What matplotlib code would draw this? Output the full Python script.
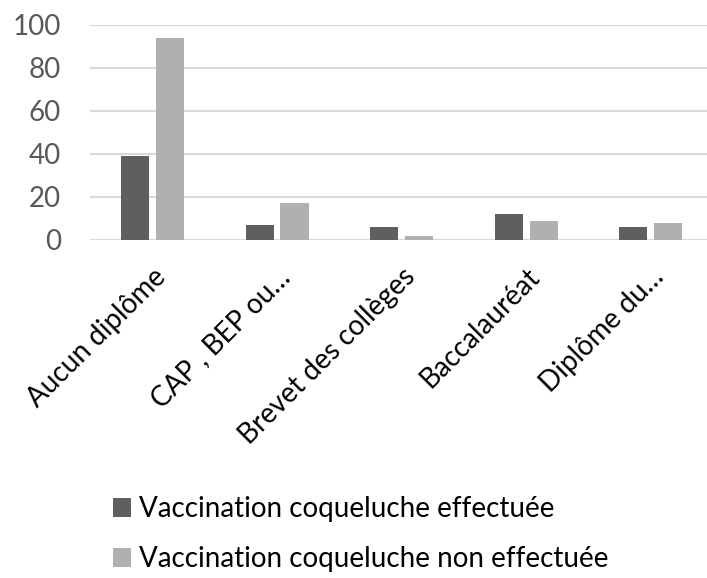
import numpy as np
import matplotlib.pyplot as plt

categories = ['Aucun diplôme', 'CAP , BEP ou…', 'Brevet des collèges', 'Baccalauréat', 'Diplôme du…']
effectuee = [39, 7, 6, 12, 6]
non_effectuee = [94, 17, 2, 9, 8]
series_names = ['Vaccination coqueluche effectuée', 'Vaccination coqueluche non effectuée']

plt.rcParams['font.family'] = ['Lato', 'DejaVu Sans']
grey_txt = '#595959'

fig = plt.figure(figsize=(7.07, 5.78), dpi=100)
ax = fig.add_axes([0.1276, 0.5848, 0.881, 0.372])

x = np.arange(len(categories))
w = 0.225
off = 0.14
ax.bar(x - off, effectuee, w, color='#5f5f5f', label=series_names[0], zorder=3)
ax.bar(x + off, non_effectuee, w, color='#b0b0b0', label=series_names[1], zorder=3)

ax.set_xlim(-0.5, len(categories) - 0.5)
ax.set_ylim(0, 100)
ax.set_yticks(range(0, 101, 20))
ax.yaxis.grid(True, color='#d9d9d9', linewidth=1.5, zorder=0)
for s in ax.spines.values():
    s.set_visible(False)
ax.axhline(0, color='#d9d9d9', linewidth=1.5, zorder=2)
ax.tick_params(axis='both', length=0, labelsize=20)
ax.tick_params(axis='y', pad=21, labelcolor=grey_txt)
ax.set_xticks(x)
ax.set_xticklabels(categories, rotation=45, ha='right', rotation_mode='anchor')
ax.tick_params(axis='x', pad=17, labelcolor='black')

# legend below, stacked
handles, labels = ax.get_legend_handles_labels()
fig.legend(handles, labels, loc='upper left', bbox_to_anchor=(113 / 707, 1 - 496 / 578),
           frameon=False, borderpad=0, borderaxespad=0, fontsize=20, labelcolor='black',
           handlelength=0.65, handleheight=0.65, handletextpad=0.3, labelspacing=0.88)

fig.savefig('out.png', dpi=100)
